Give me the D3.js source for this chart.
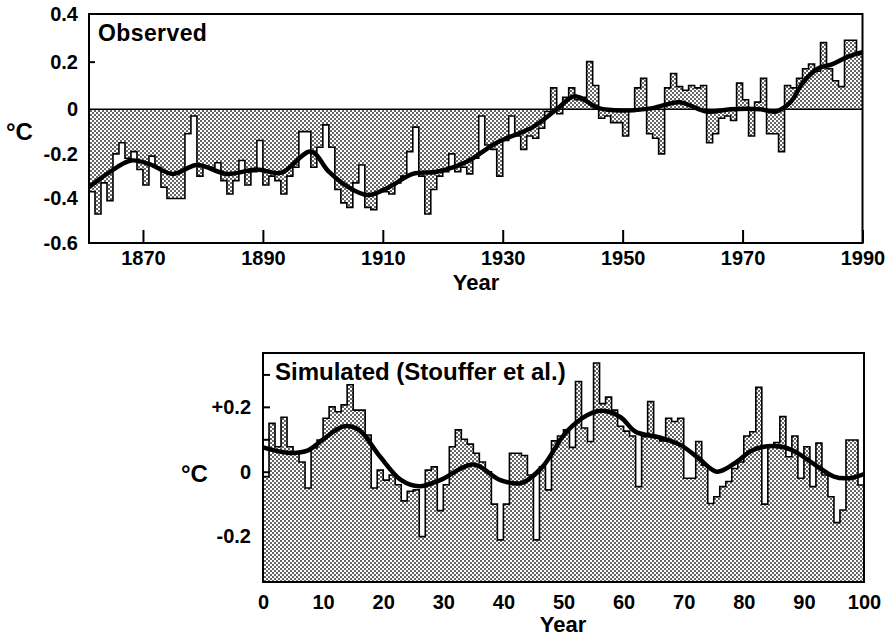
<!DOCTYPE html>
<html>
<head>
<meta charset="utf-8">
<script src="https://cdn.jsdelivr.net/npm/d3@7"></script>
<style>
  body { margin: 0; background: #fff; }
  svg text { font-family: "Liberation Sans", Arial, Helvetica, sans-serif; font-weight: bold; fill: #000; }
</style>
</head>
<body>
<svg id="chart" width="886" height="636"></svg>
<script>
// ---- Observed global mean temperature anomalies (°C), 1861-1989 ----
const obsStartYear = 1861;
const obsValues = [
  -0.37, -0.47, -0.33, -0.41, -0.20, -0.15, -0.22, -0.19, -0.27,          // 1861-1869
  -0.34, -0.21, -0.26, -0.35, -0.40, -0.40, -0.40, -0.11, -0.03, -0.30,   // 1870s
  -0.26, -0.26, -0.24, -0.32, -0.38, -0.32, -0.23, -0.34, -0.28, -0.14,   // 1880s
  -0.34, -0.30, -0.32, -0.38, -0.30, -0.26, -0.10, -0.10, -0.26, -0.17,   // 1890s
  -0.07, -0.17, -0.36, -0.42, -0.44, -0.33, -0.25, -0.44, -0.45, -0.37,   // 1900s
  -0.37, -0.38, -0.33, -0.30, -0.19, -0.08, -0.30, -0.47, -0.36, -0.30,   // 1910s
  -0.28, -0.20, -0.28, -0.26, -0.29, -0.22, -0.03, -0.16, -0.18, -0.30,   // 1920s
  -0.14, -0.03, -0.12, -0.18, -0.12, -0.13, -0.085, -0.01, 0.09, -0.02,   // 1930s
   0.05, 0.09, 0.04, 0.05, 0.20, 0.10, -0.04, -0.03, -0.06, -0.06,        // 1940s
  -0.12, -0.01, 0.09, 0.13, -0.11, -0.13, -0.20, 0.09, 0.15, 0.095,       // 1950s
   0.08, 0.10, 0.09, 0.10, -0.15, -0.11, -0.04, -0.03, -0.05, 0.11,       // 1960s
   0.04, -0.12, 0.03, 0.13, -0.11, -0.11, -0.19, 0.10, 0.09, 0.13,        // 1970s
   0.17, 0.19, 0.16, 0.28, 0.17, 0.12, 0.095, 0.29, 0.29, 0.23            // 1980s
];
// smoothed observed curve
const obsSmoothYears = [1861, 1864, 1868, 1871, 1875, 1879, 1884, 1889, 1893, 1898, 1901, 1904,
  1907.5, 1911, 1915, 1919, 1924, 1929, 1935, 1939, 1942, 1946, 1950, 1955, 1959.5, 1964, 1968,
  1973, 1975.5, 1978, 1980, 1982.5, 1985, 1987.5, 1990];
const obsSmooth = [-0.35, -0.29, -0.23, -0.245, -0.29, -0.25, -0.29, -0.27, -0.285, -0.19, -0.28, -0.345,
  -0.385, -0.35, -0.29, -0.28, -0.235, -0.15, -0.08, 0.0, 0.055, 0.005, -0.005, 0.005, 0.03, -0.01, 0.0,
  0.0, -0.01, 0.03, 0.11, 0.17, 0.19, 0.22, 0.24];
const obsXTicks = [1870, 1890, 1910, 1930, 1950, 1970, 1990];
const obsYLabels = [0.4, 0.2, 0, -0.2, -0.4, -0.6];

// ---- Simulated (Stouffer et al.) model years 0-99 ----
const simValues = [
  -0.015, 0.149, 0.077, 0.168, 0.077, 0.057, 0.03, -0.05, 0.073, 0.098,   // 0-9
   0.165, 0.20, 0.185, 0.206, 0.268, 0.19, 0.19, 0.113, -0.05, 0.005,     // 10-19
  -0.026, -0.01, -0.04, -0.09, -0.06, -0.056, -0.20, 0.005, 0.015, -0.12, // 20-29
  -0.04, 0.077, 0.129, 0.10, 0.085, 0.057, 0.03, 0.0, -0.10, -0.21,       // 30-39
  -0.10, 0.057, 0.057, 0.05, -0.01, -0.21, 0.015, -0.056, 0.095, 0.11,    // 40-49
   0.129, 0.075, 0.278, 0.135, 0.093, 0.335, 0.21, 0.23, 0.19, 0.14,      // 50-59
   0.125, 0.11, -0.046, 0.108, 0.216, 0.105, 0.095, 0.165, 0.155, 0.165,  // 60-69
  -0.02, -0.02, 0.093, 0.02, -0.098, -0.077, -0.046, -0.03, 0.01, 0.03,   // 70-79
   0.11, 0.123, 0.26, -0.10, 0.082, 0.09, 0.17, 0.046, 0.11, -0.02,       // 80-89
   0.077, -0.046, 0.088, -0.01, -0.077, -0.157, -0.118, 0.098, 0.098, -0.041 // 90-99
];
const simSmoothYears = [0, 4.5, 7.5, 10, 13.5, 16, 19.5, 23, 26, 29.5, 35, 39.5, 43, 46.5, 50.5,
  54, 56.5, 59.5, 62, 66, 69.5, 72.5, 75.5, 78.5, 81.5, 85, 88, 91.5, 95, 97.5, 100];
const simSmooth = [0.075, 0.058, 0.066, 0.10, 0.14, 0.128, 0.046, -0.026, -0.045, -0.026, 0.022,
  -0.026, -0.035, 0.015, 0.123, 0.175, 0.188, 0.168, 0.123, 0.106, 0.082, 0.041, 0.0, 0.026, 0.067,
  0.079, 0.067, 0.026, -0.015, -0.02, -0.007];
const simXTicks = [0, 10, 20, 30, 40, 50, 60, 70, 80, 90, 100];
const simYTickMarks = [0, 0.1, 0.2, 0.3];
const simYLabels = [0.2, 0, -0.2];

const svg = d3.select("#chart");

// halftone shading
const defs = svg.append("defs");
const pat = defs.append("pattern").attr("id", "halftone")
  .attr("patternUnits", "userSpaceOnUse").attr("width", 4).attr("height", 4);
pat.append("rect").attr("width", 4).attr("height", 4).attr("fill", "#fff");
pat.append("rect").attr("width", 2).attr("height", 2).attr("fill", "#666");
pat.append("rect").attr("x", 2).attr("y", 2).attr("width", 2).attr("height", 2).attr("fill", "#666");

const labelFmt = d => d === 0 ? "0" : (d > 0 ? "" : "-") + Math.abs(d).toFixed(1);

function stepPoints(start, values) {
  const pts = values.map((v, i) => [start + i, v]);
  pts.push([start + values.length, values[values.length - 1]]);
  return pts;
}

function panel(cfg) {
  const { id, box, x, y, start, values, smoothX, smoothY, baseline } = cfg;
  const g = svg.append("g");
  defs.append("clipPath").attr("id", id).append("rect")
    .attr("x", box.left).attr("y", box.top)
    .attr("width", box.right - box.left).attr("height", box.bottom - box.top);
  const plot = g.append("g").attr("clip-path", `url(#${id})`);
  const pts = stepPoints(start, values);

  plot.append("path").datum(pts)
    .attr("fill", "url(#halftone)")
    .attr("d", d3.area().curve(d3.curveStepAfter)
      .x(d => x(d[0])).y0(baseline).y1(d => y(d[1])));

  plot.append("path").datum(pts)
    .attr("fill", "none").attr("stroke", "#000").attr("stroke-width", 1.6)
    .attr("d", d3.line().curve(d3.curveStepAfter).x(d => x(d[0])).y(d => y(d[1])));

  plot.append("path").datum(smoothX.map((t, i) => [t, smoothY[i]]))
    .attr("fill", "none").attr("stroke", "#000").attr("stroke-width", 4.5)
    .attr("stroke-linejoin", "round")
    .attr("d", d3.line().curve(d3.curveCatmullRom.alpha(0.5)).x(d => x(d[0])).y(d => y(d[1])));
  return g;
}

// ---------- Observed panel ----------
const boxA = { left: 89, right: 862.5, top: 14, bottom: 243 };
const xA = d3.scaleLinear().domain([1861, 1990]).range([boxA.left, boxA.right]);
const yA = d3.scaleLinear().domain([-0.6, 0, 0.4]).range([boxA.bottom, 109.3, boxA.top]);

const gA = panel({ id: "clipA", box: boxA, x: xA, y: yA, start: obsStartYear, values: obsValues,
  smoothX: obsSmoothYears, smoothY: obsSmooth, baseline: yA(0) });

gA.append("line").attr("x1", boxA.left).attr("x2", boxA.right)
  .attr("y1", yA(0)).attr("y2", yA(0)).attr("stroke", "#000").attr("stroke-width", 1.6);
gA.append("rect").attr("x", boxA.left).attr("y", boxA.top)
  .attr("width", boxA.right - boxA.left).attr("height", boxA.bottom - boxA.top)
  .attr("fill", "none").attr("stroke", "#000").attr("stroke-width", 2);

const axA_x = gA.append("g").attr("transform", `translate(0,${boxA.bottom})`)
  .call(d3.axisBottom(xA).tickValues(obsXTicks).tickSizeInner(-13).tickSizeOuter(0).tickPadding(8).tickFormat(d3.format("d")));
const axA_yTicks = gA.append("g").attr("transform", `translate(${boxA.left},0)`)
  .call(d3.axisLeft(yA).tickValues([0.2]).tickSizeInner(-6).tickSizeOuter(0).tickFormat(""));
const axA_y = gA.append("g").attr("transform", `translate(${boxA.left},0)`)
  .call(d3.axisLeft(yA).tickValues(obsYLabels).tickSize(0).tickPadding(11).tickFormat(labelFmt));

// ---------- Simulated panel ----------
const boxB = { left: 263, right: 864, top: 353, bottom: 582 };
const xB = d3.scaleLinear().domain([0, 100]).range([boxB.left, boxB.right]);
const yB = d3.scaleLinear().domain([-0.34, 0.366]).range([boxB.bottom, boxB.top]);

const gB = panel({ id: "clipB", box: boxB, x: xB, y: yB, start: 0, values: simValues,
  smoothX: simSmoothYears, smoothY: simSmooth, baseline: boxB.bottom });

gB.append("rect").attr("x", boxB.left).attr("y", boxB.top)
  .attr("width", boxB.right - boxB.left).attr("height", boxB.bottom - boxB.top)
  .attr("fill", "none").attr("stroke", "#000").attr("stroke-width", 2);

const axB_x = gB.append("g").attr("transform", `translate(0,${boxB.bottom})`)
  .call(d3.axisBottom(xB).tickValues(simXTicks).tickSize(0).tickPadding(13).tickFormat(d3.format("d")));
const axB_yTicks = gB.append("g").attr("transform", `translate(${boxB.left},0)`)
  .call(d3.axisLeft(yB).tickValues(simYTickMarks).tickSizeInner(-7).tickSizeOuter(0).tickFormat(""));
const axB_y = gB.append("g").attr("transform", `translate(${boxB.left},0)`)
  .call(d3.axisLeft(yB).tickValues(simYLabels).tickSize(0).tickPadding(12)
    .tickFormat(d => d > 0 ? "+" + d.toFixed(1) : labelFmt(d)));

// axis styling
svg.selectAll(".domain").remove();
svg.selectAll(".tick line").attr("stroke", "#000").attr("stroke-width", 2);
svg.selectAll(".tick text").style("font-size", "20px").attr("fill", "#000");

// ---------- titles & axis names ----------
svg.append("text").attr("x", 98).attr("y", 40.5).style("font-size", "23px")
  .style("letter-spacing", "0.4px").text("Observed");
svg.append("text").attr("x", 275).attr("y", 380).style("font-size", "24px")
  .text("Simulated (Stouffer et al.)");
svg.append("text").attr("x", 6).attr("y", 140).style("font-size", "24px").text("°C");
svg.append("text").attr("x", 181).attr("y", 481.5).style("font-size", "24px").text("°C");
svg.append("text").attr("x", 476).attr("y", 290).attr("text-anchor", "middle")
  .style("font-size", "22px").text("Year");
svg.append("text").attr("x", 563).attr("y", 632).attr("text-anchor", "middle")
  .style("font-size", "22px").text("Year");
</script>
</body>
</html>
